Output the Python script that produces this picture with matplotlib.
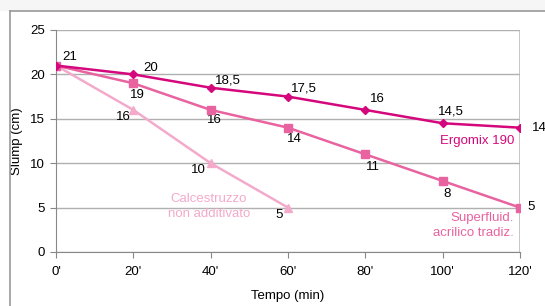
import matplotlib.pyplot as plt
from matplotlib.lines import Line2D
from matplotlib.patches import Rectangle

plt.rcParams['font.family'] = ['Liberation Sans', 'DejaVu Sans']

tempo = [0, 20, 40, 60, 80, 100, 120]
tick_labels = ["0'", "20'", "40'", "60'", "80'", "100'", "120'"]
ergomix = [21, 20, 18.5, 17.5, 16, 14.5, 14]
superfluid = [21, 19, 16, 14, 11, 8, 5]
tempo_calc = [0, 20, 40, 60]
calcestruzzo = [21, 16, 10, 5]

ergo_lbl = ["21", "20", "18,5", "17,5", "16", "14,5", "14"]
super_lbl = ["", "19", "16", "14", "11", "8", "5"]
calc_lbl = ["", "16", "10", "5"]

# label offsets in pixels (dx, dy up)
ergo_off = [(14, 9), (17, 6), (17, 7), (16, 8), (12, 11), (8, 12), (19, 0)]
super_off = [(0, 0), (4, -12), (4, -10), (6, -11), (8, -13), (4, -13), (11, 1)]
calc_off = [(0, 0), (-10, -7), (-12, -7), (-9, -7)]

c_ergo = "#d4087c"
c_super = "#e8639f"
c_calc = "#f3aacb"

fig = plt.figure(figsize=(5.45, 3.06), dpi=100)
ax = fig.add_axes([56 / 545, 1 - 252 / 306, 464 / 545, 222 / 306])

# outer frame of the picture
fig.patches.append(Rectangle((0, 1 - 11 / 306), 1, 11 / 306, transform=fig.transFigure,
                             facecolor="#f6f6f6", edgecolor="none", zorder=0))
fig.lines.append(Line2D([10 / 545, 10 / 545], [0, 1 - 11 / 306], transform=fig.transFigure,
                        color="#9a9a9a", lw=1.2))
fig.lines.append(Line2D([10 / 545, 1], [1 - 11 / 306, 1 - 11 / 306], transform=fig.transFigure,
                        color="#9a9a9a", lw=1.2))

ax.plot(tempo_calc, calcestruzzo, color=c_calc, lw=1.8, marker="^", ms=6, zorder=3)
ax.plot(tempo, superfluid, color=c_super, lw=1.8, marker="s", ms=6, zorder=4)
ax.plot(tempo, ergomix, color=c_ergo, lw=1.8, marker="D", ms=4.5, zorder=5)

ax.set_xlim(0, 120)
ax.set_ylim(0, 25)
ax.set_xticks(tempo)
ax.set_xticklabels(tick_labels)
ax.set_yticks([0, 5, 10, 15, 20, 25])
ax.yaxis.grid(True, color="#b0b0b0", lw=1)
ax.set_axisbelow(True)
for s in ["top", "right"]:
    ax.spines[s].set_visible(False)
ax.spines["left"].set_color("#888888")
ax.spines["bottom"].set_color("#888888")
ax.axvline(120, color="#b5b5b5", lw=1.8, zorder=1)
ax.tick_params(axis="both", direction="out", length=4, color="#888888", labelsize=9.5)
ax.tick_params(axis="x", pad=6)
ax.tick_params(axis="y", pad=4)
ax.set_xlabel("Tempo (min)", fontsize=9.5, labelpad=9)
ax.set_ylabel("Slump (cm)", fontsize=9.5, labelpad=5)

for lbls, xs, ys, offs in [(ergo_lbl, tempo, ergomix, ergo_off),
                           (super_lbl, tempo, superfluid, super_off),
                           (calc_lbl, tempo_calc, calcestruzzo, calc_off)]:
    for lbl, x, y, off in zip(lbls, xs, ys, offs):
        if lbl:
            ax.annotate(lbl, (x, y), xytext=off, textcoords="offset pixels",
                        fontsize=9.5, ha="center", va="center", annotation_clip=False)

ax.text(118.5, 13.2, "Ergomix 190", color=c_ergo, fontsize=9.5, ha="right", va="top")
ax.text(118.5, 4.5, "Superfluid.\nacrilico tradiz.", color=c_super, fontsize=9.5,
        ha="right", va="top", linespacing=1.35)
ax.text(39.5, 6.65, "Calcestruzzo\nnon additivato", color=c_calc, fontsize=9.5,
        ha="center", va="top", linespacing=1.35)

fig.savefig("out.png", dpi=100)
